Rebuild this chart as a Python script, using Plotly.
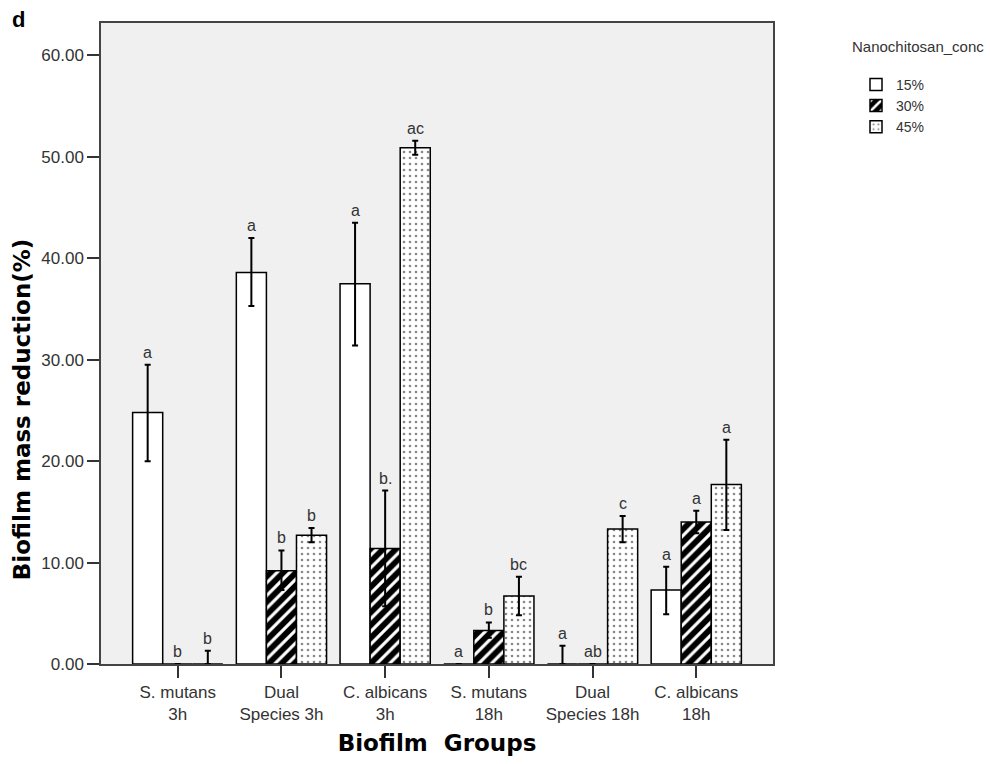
import plotly.graph_objects as go

categories = ["S. mutans<br>3h", "Dual<br>Species 3h", "C. albicans<br>3h",
              "S. mutans<br>18h", "Dual<br>Species 18h", "C. albicans<br>18h"]
series_names = ["15%", "30%", "45%"]

vals_15 = [24.8, 38.6, 37.5, 0.0, 0.0, 7.3]
err_up_15 = [4.7, 3.4, 6.0, 0.0, 1.8, 2.3]
err_dn_15 = [4.8, 3.3, 6.1, 0.0, 0.0, 2.4]
letters_15 = ["a", "a", "a", "a", "a", "a"]

vals_30 = [0.0, 9.2, 11.4, 3.3, 0.0, 14.0]
err_up_30 = [0.0, 2.0, 5.7, 0.8, 0.0, 1.1]
err_dn_30 = [0.0, 1.9, 5.7, 0.7, 0.0, 1.1]
letters_30 = ["b", "b", "b.", "b", "ab", "a"]

vals_45 = [0.0, 12.7, 50.9, 6.7, 13.3, 17.7]
err_up_45 = [1.3, 0.7, 0.7, 1.9, 1.3, 4.4]
err_dn_45 = [0.0, 0.7, 0.7, 1.9, 1.3, 4.5]
letters_45 = ["b", "b", "ac", "bc", "c", "a"]

y_ticks = [0, 10, 20, 30, 40, 50, 60]

FONT = "Liberation Sans, Arial, sans-serif"
BOLD = "DejaVu Sans, Verdana, sans-serif"
TXT = "#333333"
x_idx = list(range(len(categories)))
bargap = 0.13
bw = (1 - bargap) / 3

patterns = [
    dict(shape="", fillmode="replace"),
    dict(shape="/", bgcolor="black", fgcolor="white", size=9, solidity=0.35, fillmode="replace"),
    dict(shape=".", bgcolor="white", fgcolor="#888888", size=6, solidity=0.15, fillmode="replace"),
]

all_vals = [vals_15, vals_30, vals_45]
all_up = [err_up_15, err_up_30, err_up_45]
all_dn = [err_dn_15, err_dn_30, err_dn_45]
all_letters = [letters_15, letters_30, letters_45]

fig = go.Figure()
for k in range(3):
    fig.add_trace(go.Bar(
        x=x_idx, y=all_vals[k], name=series_names[k],
        marker=dict(color="white", line=dict(color="black", width=1.5), pattern=patterns[k]),
        error_y=dict(type="data", array=all_up[k], arrayminus=all_dn[k], symmetric=False,
                     color="black", thickness=2, width=3),
    ))

annotations = []
for k in range(3):
    for i in x_idx:
        annotations.append(dict(
            x=i + (k - 1) * bw, y=all_vals[k][i] + all_up[k][i], xref="x", yref="y",
            text=all_letters[k][i], showarrow=False, yanchor="bottom", yshift=2,
            font=dict(family=FONT, size=16, color=TXT)))

annotations.append(dict(x=(10 - 101) / 672, y=(667 - 19) / 644, xref="paper", yref="paper",
                        xanchor="left", yanchor="middle",
                        text="<b>d</b>", showarrow=False, font=dict(family=FONT, size=22, color="black")))
annotations.append(dict(x=(850 - 101) / 672, y=(667 - 47) / 644, xref="paper", yref="paper",
                        xanchor="left", yanchor="middle", text="Nanochitosan_conc", showarrow=False,
                        font=dict(family=FONT, size=15, color=TXT)))
annotations.append(dict(x=(22 - 101) / 672, y=(667 - 411) / 644, xref="paper", yref="paper",
                        xanchor="center", yanchor="middle", textangle=-90,
                        text="<b>Biofilm mass reduction(%)</b>", showarrow=False,
                        font=dict(family=BOLD, size=23, color="black")))

fig.update_layout(
    width=990, height=764,
    margin=dict(l=101, r=217, t=23, b=97),
    paper_bgcolor="white", plot_bgcolor="#F0F0F0",
    barmode="group", bargap=bargap, bargroupgap=0,
    font=dict(family=FONT, size=17, color=TXT),
    annotations=annotations,
    legend=dict(x=(856 - 101) / 672, y=(667 - 69) / 644, xanchor="left", yanchor="top",
                bgcolor="rgba(0,0,0,0)", font=dict(family=FONT, size=14, color=TXT),
                itemwidth=30, tracegroupgap=0),
    xaxis=dict(tickvals=x_idx, ticktext=categories, range=[-0.74, 5.74],
               showline=True, linecolor="#444444", linewidth=1.5, mirror=True,
               ticks="outside", ticklen=12, tickcolor="#333333", tickwidth=2,
               showgrid=False, zeroline=False,
               tickfont=dict(family=FONT, size=17, color=TXT),
               title=dict(text="<b>Biofilm  Groups</b>", standoff=12,
                          font=dict(family=BOLD, size=23, color="black"))),
    yaxis=dict(range=[0, 63.2], tickvals=y_ticks, tickformat=".2f",
               showline=True, linecolor="#444444", linewidth=1.5, mirror=True,
               ticks="outside", ticklen=12, tickcolor="#333333", tickwidth=2,
               showgrid=False, zeroline=False,
               tickfont=dict(family=FONT, size=17, color=TXT)),
)

fig.write_html("out.html", config={"displayModeBar": False},
               post_script="document.body.style.margin='0';document.body.style.overflow='hidden';")
